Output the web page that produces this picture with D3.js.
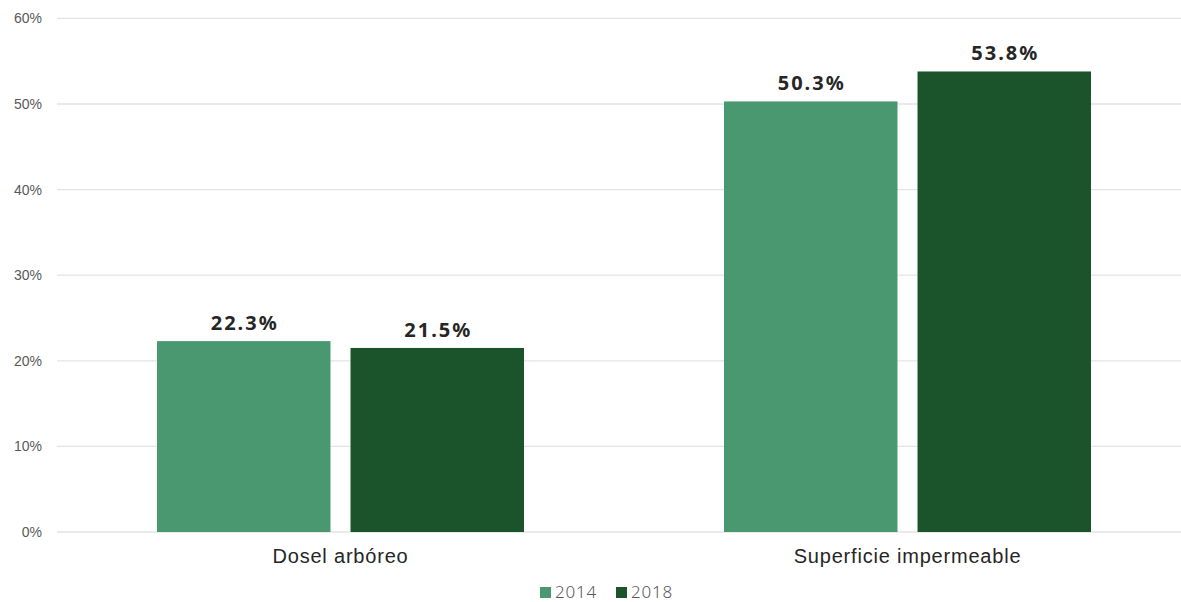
<!DOCTYPE html>
<html>
<head>
<meta charset="utf-8">
<script src="https://cdn.jsdelivr.net/npm/d3@7"></script>
<style>
  html, body { margin: 0; padding: 0; background: #ffffff; }
  svg { display: block; font-family: "Noto Sans", "Open Sans", sans-serif; }
</style>
</head>
<body>
<svg id="chart" width="1181" height="602"></svg>
<script>
// Land-cover shares by category and year
const categories = ["Dosel arbóreo", "Superficie impermeable"];
const years = ["2014", "2018"];
const values2014 = [22.3, 50.3];
const values2018 = [21.5, 53.8];
const yTicks = [0, 10, 20, 30, 40, 50, 60];
const colors = ["#4a9870", "#1b532b"];

const seriesValues = [values2014, values2018];

const svg = d3.select("#chart");
const plotLeft = 57, plotRight = 1191, plotTop = 18.4, plotBottom = 532;

const x0 = d3.scaleBand().domain(categories).range([plotLeft, plotRight]).paddingInner(0).paddingOuter(0);
const groupPad = 100;
const x1 = d3.scaleBand().domain(years)
  .range([groupPad, x0.bandwidth() - groupPad])
  .paddingInner(19 / 367 * 2);
const y = d3.scaleLinear().domain([0, 60]).range([plotBottom, plotTop]);

// Gridlines
svg.append("g")
  .selectAll("line")
  .data(yTicks)
  .join("line")
  .attr("x1", plotLeft).attr("x2", plotRight)
  .attr("y1", d => y(d)).attr("y2", d => y(d))
  .attr("stroke", "#e3e3e3").attr("stroke-width", 1.3);

// Y axis labels
const yAxis = d3.axisLeft(y).tickValues(yTicks).tickFormat(d => d + "%").tickSize(0).tickPadding(15);
const ga = svg.append("g").attr("transform", `translate(${plotLeft},0)`).call(yAxis);
ga.select(".domain").remove();
ga.selectAll("text")
  .attr("fill", "#595959")
  .style("font-size", "14px")
  .style("font-weight", "300");

// Bars
const groups = svg.append("g")
  .selectAll("g")
  .data(categories)
  .join("g")
  .attr("transform", d => `translate(${x0(d)},0)`);

groups.selectAll("rect")
  .data((c, i) => years.map((yr, j) => ({ yr, j, v: seriesValues[j][i] })))
  .join("rect")
  .attr("x", d => x1(d.yr))
  .attr("width", x1.bandwidth())
  .attr("y", d => y(d.v))
  .attr("height", d => y(0) - y(d.v))
  .attr("fill", d => colors[d.j]);

// Value labels
groups.selectAll("text.val")
  .data((c, i) => years.map((yr, j) => ({ yr, j, v: seriesValues[j][i] })))
  .join("text")
  .attr("class", "val")
  .attr("x", d => x1(d.yr) + x1.bandwidth() / 2 + 1)
  .attr("y", d => y(d.v) - 11)
  .attr("text-anchor", "middle")
  .attr("fill", "#262626")
  .style("font-size", "20px")
  .style("font-weight", "700")
  .style("letter-spacing", "2px")
  .text(d => d.v.toFixed(1) + "%");

// Category labels
const xAxis = d3.axisBottom(x0).tickSize(0).tickPadding(17);
const gx = svg.append("g").attr("transform", `translate(0,${plotBottom})`).call(xAxis);
gx.select(".domain").remove();
gx.selectAll("text")
  .attr("fill", "#262626")
  .style("font-size", "20px")
  .style("font-weight", "300")
  .style("letter-spacing", "0.8px");

// Legend
const legend = svg.append("g").attr("transform", "translate(540,592)");
const legendX = [0, 76];
years.forEach((yr, j) => {
  const g = legend.append("g").attr("transform", `translate(${legendX[j]},0)`);
  g.append("rect").attr("x", 0).attr("y", -5).attr("width", 11).attr("height", 11).attr("fill", colors[j]);
  g.append("text").attr("x", 15).attr("y", 0).attr("dy", "0.35em")
    .attr("fill", "#595959").style("font-size", "17px").style("font-weight", "300")
    .style("letter-spacing", "0.8px").text(yr);
});
</script>
</body>
</html>
